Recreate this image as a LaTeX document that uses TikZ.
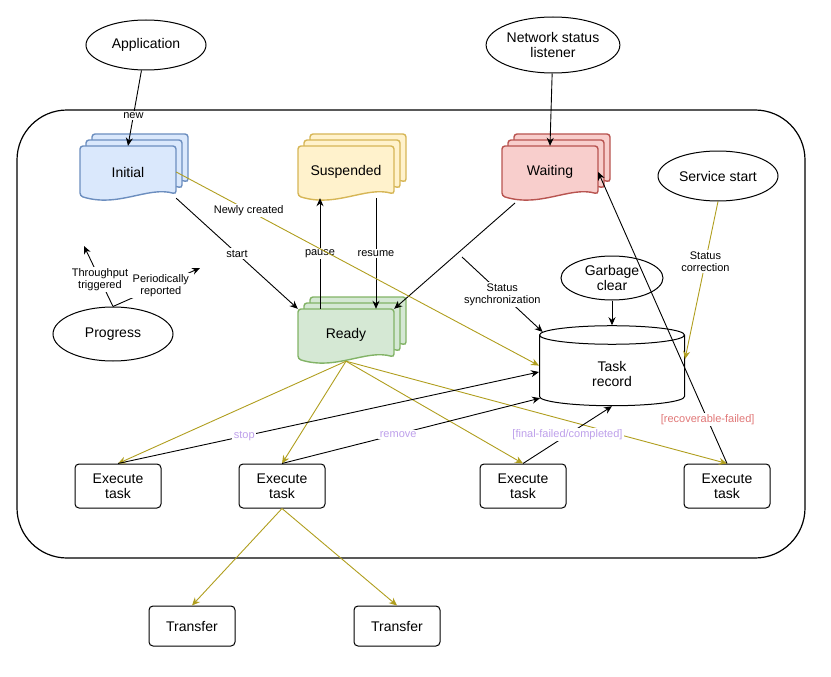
\documentclass[tikz,border=0pt]{standalone}
\usepackage{fontspec}
\setmainfont{Liberation Sans}
\usetikzlibrary{arrows.meta,shapes.geometric,positioning,calc}
\definecolor{olivea}{RGB}{176,158,30}
\definecolor{lilac}{RGB}{190,160,235}
\definecolor{rose}{RGB}{225,120,120}
\definecolor{bluef}{HTML}{DAE8FC}\definecolor{blued}{HTML}{6C8EBF}
\definecolor{yelf}{HTML}{FFF2CC}\definecolor{yeld}{HTML}{D6B656}
\definecolor{redf}{HTML}{F8CECC}\definecolor{redd}{HTML}{B85450}
\definecolor{grnf}{HTML}{D5E8D4}\definecolor{grnd}{HTML}{82B366}
\tikzset{
  ell/.style={ellipse, draw, line width=1, minimum width=#1, minimum height=50, inner sep=1, align=center, font=\fontsize{14}{15}\selectfont},
  box/.style={draw, line width=1, rounded corners=4, minimum width=86, minimum height=44, align=center, font=\fontsize{14}{15}\selectfont},
  arr/.style={-{Stealth[length=8,width=7]}, line width=0.9},
  oarr/.style={arr, olivea},
  lab/.style={fill=white, text=black, inner sep=1.5, align=center, font=\fontsize{11}{12}\selectfont},
}
% one page of a stacked document, centred at #1
\newcommand\docpage[3]{%
  \filldraw[fill=#2, draw=#3, line width=1.4, rounded corners=3]
    ($(#1)+(-48,-26)$) -- ($(#1)+(48,-26)$) -- ($(#1)+(48,22)$)
    .. controls ($(#1)+(20,14)$) and ($(#1)+(-10,36)$) .. ($(#1)+(-48,24)$) -- cycle;}
\newcommand\stackdoc[5]{%
  \docpage{$(#2)+(12,-12)$}{#3}{#4}
  \docpage{$(#2)+(6,-6)$}{#3}{#4}
  \docpage{#2}{#3}{#4}
  \node[minimum width=96, minimum height=52, font=\fontsize{14}{15}\selectfont] (#1) at (#2) {#5};}
\begin{document}
\begin{tikzpicture}[x=1pt, y=-1pt]
\useasboundingbox (0,0) rectangle (831,677);
\draw[line width=1.2, rounded corners=50] (17,110) rectangle (805,558);

\node[ell=120] (app) at (146,45) {Application};
\node[ell=120, minimum height=56] (net) at (553,45) {Network status\\listener};
\node[ell=120] (svc) at (718,176) {Service start};
\node[ell=102, minimum height=44] (gc) at (612,278) {Garbage\\clear};
\node[ell=120, minimum height=54] (prog) at (113,334) {Progress};
\node[cylinder, shape border rotate=90, draw, line width=1, aspect=0.4, minimum width=145, minimum height=80,
  align=center, font=\fontsize{14}{15}\selectfont] (rec) at (612,372) {\\Task\\record};

\stackdoc{init}{128,172}{bluef}{blued}{Initial}
\stackdoc{susp}{346,172}{yelf}{yeld}{Suspended}
\stackdoc{wait}{550,172}{redf}{redd}{Waiting}
\stackdoc{ready}{346,335}{grnf}{grnd}{Ready}

\node[box] (ex1) at (118,486) {Execute\\task};
\node[box] (ex2) at (282,486) {Execute\\task};
\node[box] (ex3) at (523,486) {Execute\\task};
\node[box] (ex4) at (727,486) {Execute\\task};
\node[box, minimum height=40] (tr1) at (192,626) {Transfer};
\node[box, minimum height=40] (tr2) at (397,626) {Transfer};

\coordinate (sync) at (462,257);
\coordinate (thr) at (84,246);
\coordinate (per) at (200,268);

\draw[arr] (app) -- node[lab, pos=0.6]{new} (init.north);
\draw[arr] (net) -- (wait.north);
\draw[arr] (init.south east) -- node[lab]{start} (ready.north west);
\draw[arr] (ready.north -| 320,0) -- node[lab]{pause} (susp.south -| 320,0);
\draw[arr] (susp.south -| 376,0) -- node[lab]{resume} (ready.north -| 376,0);
\draw[arr] (515,203) -- (ready.north east);
\draw[oarr] (init.east) -- node[lab, pos=0.2]{Newly created} (rec.175);
\draw[arr] (sync) -- node[lab]{Status\\synchronization} (rec.150);
\draw[arr] (gc) -- (rec.north);
\draw[oarr] (svc.south) -- node[lab, pos=0.38]{Status\\correction} (rec.10);
\draw[arr] (prog.north) -- node[lab, pos=0.45]{Throughput\\triggered} (thr);
\draw[arr] (prog.north) -- node[lab, pos=0.55]{Periodically\\reported} (per);

\foreach \e in {ex1,ex2,ex3,ex4}
  \draw[oarr] (ready.south) -- (\e.north);
\draw[arr] (ex1.north) -- node[lab, text=lilac, pos=0.3]{stop} (rec.west);
\draw[arr] (ex2.north) -- node[lab, text=lilac, pos=0.45]{remove} (rec.200);
\draw[arr] (ex3.north) -- node[lab, text=lilac, pos=0.5]{[final-failed/completed]} (rec.south);
\draw[arr] (ex4.north) -- node[lab, text=rose, pos=0.15]{[recoverable-failed]} (wait.east);
\draw[oarr] (ex2.south) -- (tr1.north);
\draw[oarr] (ex2.south) -- (tr2.north);
\end{tikzpicture}
\end{document}
